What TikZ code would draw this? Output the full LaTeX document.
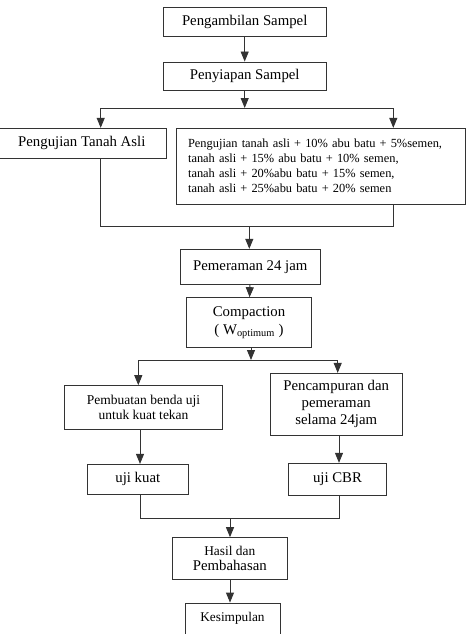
\documentclass[tikz,border=0pt]{standalone}
\usepackage{fontspec}
\setmainfont{Liberation Serif}
\usetikzlibrary{arrows.meta}
\tikzstyle{box}=[rectangle,draw=black!80,line width=0.9pt,inner sep=0pt,align=center,font=\fontsize{14.8}{17}\selectfont]
\tikzstyle{edge} = [draw=black!80,line width=0.9pt]
\tikzstyle{arrow} = [edge,-{Triangle[length=10pt,width=8pt]}]

\begin{document}
\begin{tikzpicture}[x=1pt,y=-1pt]
                    \clip (0,0) rectangle (467,634);
                    \node[box,minimum width=162.7pt,minimum height=28.7pt] (1) at (244.7,21.7) {Pengambilan Sampel};
                    \node[box,minimum width=162.7pt,minimum height=28pt] (2) at (244.7,76) {Penyiapan Sampel};
                    \node[box,minimum width=169.7pt,minimum height=30pt] (3) at (81.8,143.3) {Pengujian Tanah Asli};
                    \node[box,minimum width=289.3pt,minimum height=75.7pt,align=left,text width=265.3pt,inner xsep=12pt,
                          font=\fontsize{12.4}{15}\selectfont] (4) at (320.7,166.2)
                          {Pengujian tanah asli + 10\% abu batu + 5\%semen,\\
                           tanah asli + 15\% abu batu + 10\% semen,\\
                           tanah asli + 20\%abu batu + 15\% semen,\\
                           tanah asli + 25\%abu batu + 20\% semen};
                    \node[box,minimum width=140.7pt,minimum height=35pt] (5) at (250.3,266.8) {Pemeraman 24 jam};
                    \node[box,minimum width=124.7pt,minimum height=49.3pt,font=\fontsize{14.8}{18}\selectfont] (6) at (249,322.3)
                          {Compaction\\( W\textsubscript{optimum} )};
                    \node[box,minimum width=158.3pt,minimum height=43.7pt,font=\fontsize{13.5}{14.5}\selectfont] (7) at (143.5,407.5)
                          {Pembuatan benda uji\\untuk kuat tekan};
                    \node[box,minimum width=132.3pt,minimum height=61.7pt] (8) at (336.2,404.2)
                          {Pencampuran dan\\pemeraman\\selama 24jam};
                    \node[box,minimum width=101pt,minimum height=29.7pt] (9) at (137.8,479.2) {uji kuat};
                    \node[box,minimum width=98.3pt,minimum height=32pt] (10) at (337.5,479.3) {uji CBR};
                    \node[box,minimum width=115pt,minimum height=41.7pt,font=\fontsize{14.8}{15.3}\selectfont] (11) at (229.8,558.5)
                          {{\fontsize{13.4}{15.3}\selectfont Hasil dan}\\Pembahasan};
                    \node[box,minimum width=95pt,minimum height=44pt,text depth=16pt,font=\fontsize{13.3}{15}\selectfont] (12) at (232.5,625)
                          {Kesimpulan};

                    % junctions
                    \coordinate (a) at (244.7,108);
                    \coordinate (a3) at (100.7,108);
                    \coordinate (a4) at (393.3,108);
                    \coordinate (b) at (249.3,226);
                    \coordinate (b3) at (100.7,226);
                    \coordinate (b4) at (393.3,226);
                    \coordinate (c) at (251,360);
                    \coordinate (c7) at (138.3,360);
                    \coordinate (c8) at (337.7,360);
                    \coordinate (d) at (230,518);
                    \coordinate (d9) at (140,518);
                    \coordinate (d10) at (339,518);

                    \path[arrow] (1) -- (2);
                    \path[arrow] (2) -- (a);
                    \path[edge] (a3) -- (a4);
                    \path[arrow] (a3) -- (a3 |- 3.north);
                    \path[arrow] (a4) -- (a4 |- 4.north);
                    \path[edge] (b3 |- 3.south) -- (b3) -- (b4) -- (b4 |- 4.south);
                    \path[arrow] (b) -- (b |- 5.north);
                    \path[arrow] (5) -- (6);
                    \path[arrow] (6.south -| c) -- (c);
                    \path[edge] (c7) -- (c8);
                    \path[arrow] (c7) -- (c7 |- 7.north);
                    \path[arrow] (c8) -- (c8 |- 8.north);
                    \path[arrow] (d9 |- 7.south) -- (d9 |- 9.north);
                    \path[arrow] (d10 |- 8.south) -- (d10 |- 10.north);
                    \path[edge] (d9 |- 9.south) -- (d9) -- (d10) -- (d10 |- 10.south);
                    \path[arrow] (d) -- (d |- 11.north);
                    \path[arrow] (d |- 11.south) -- (d |- 12.north);
                \end{tikzpicture}
\end{document}
